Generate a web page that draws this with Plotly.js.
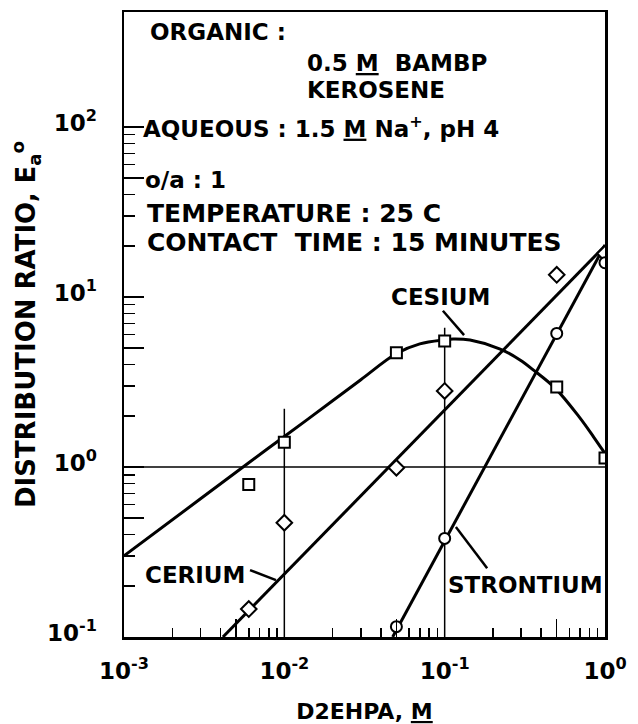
<!DOCTYPE html>
<html>
<head>
<meta charset="utf-8">
<script src="https://cdn.plot.ly/plotly-3.0.1.min.js"></script>
<style>
html, body { margin: 0; padding: 0; background: #fff; }
#chart { width: 638px; height: 724px; }
</style>
</head>
<body>
<div id="chart"></div>
<script>
// ---- measured points (D2EHPA, M  vs  distribution ratio) ----
const cesiumX = [0.006, 0.01, 0.05, 0.1, 0.5, 1.0];
const cesiumY = [0.79, 1.40, 4.69, 5.5, 2.95, 1.13];
const ceriumX = [0.006, 0.01, 0.05, 0.1, 0.5, 1.0];
const ceriumY = [0.146, 0.47, 0.99, 2.8, 13.5, 18];
const strontiumX = [0.05, 0.1, 0.5, 1.0];
const strontiumY = [0.115, 0.38, 6.1, 15.9];

// ---- drawn curves ----
const cesiumCurveX = [0.001, 0.003, 0.006, 0.01, 0.02, 0.03, 0.05, 0.07, 0.1, 0.113, 0.144, 0.222, 0.295, 0.36, 0.49, 0.69, 0.85, 1.0];
const cesiumCurveY = [0.30, 0.65, 1.06, 1.51, 2.45, 3.26, 4.65, 5.3, 5.6, 5.66, 5.58, 4.94, 4.26, 3.7, 2.9, 1.97, 1.5, 1.2];
const ceriumLineX = [0.00414, 1.0];
const ceriumLineY = [0.1, 20];
const strontiumLineX = [0.0474, 1.0];
const strontiumLineY = [0.1, 20.2];

// ---- reference lines ----
const vLineX = [0.01, 0.1];
const vLineTop = [2.2, 6.6];
const hLineY = 1;

// ---- tick labels ----
const xTickVals = [0.001, 0.005, 0.01, 0.05, 0.1, 0.5, 1];
const xTickText = ['10<sup>-3</sup>', '', '10<sup>-2</sup>', '', '10<sup>-1</sup>', '', '10<sup>0</sup>'];
const yTickVals = [0.1, 0.5, 1, 5, 10, 50, 100];
const yTickText = ['10<sup>-1</sup>', '', '10<sup>0</sup>', '', '10<sup>1</sup>', '', '10<sup>2</sup>'];

function minorTicks(lo, hi) {
  const out = [];
  for (let d = lo; d < hi; d++) {
    for (let k = 2; k <= 9; k++) { if (k !== 5) out.push(k * Math.pow(10, d)); }
  }
  return out;
}
const xMinor = minorTicks(-3, 0);
const yMinor = minorTicks(-1, 2);

const FONT = 'DejaVu Sans, Liberation Sans, sans-serif';
const black = '#000';

const lineStyle = { color: black, width: 3 };
const markerBase = { color: '#fff', size: 11, line: { color: black, width: 2 } };

const traces = [
  { x: cesiumCurveX, y: cesiumCurveY, mode: 'lines', line: Object.assign({ shape: 'spline', smoothing: 1 }, lineStyle), hoverinfo: 'skip', showlegend: false },
  { x: ceriumLineX, y: ceriumLineY, mode: 'lines', line: lineStyle, hoverinfo: 'skip', showlegend: false },
  { x: strontiumLineX, y: strontiumLineY, mode: 'lines', line: lineStyle, hoverinfo: 'skip', showlegend: false },
  { x: cesiumX, y: cesiumY, mode: 'markers', name: 'Cesium', marker: Object.assign({ symbol: 'square' }, markerBase), showlegend: false },
  { x: ceriumX, y: ceriumY, mode: 'markers', name: 'Cerium', marker: Object.assign({}, markerBase, { symbol: 'diamond', size: 12 }), showlegend: false },
  { x: strontiumX, y: strontiumY, mode: 'markers', name: 'Strontium', marker: Object.assign({ symbol: 'circle' }, markerBase), showlegend: false }
];

const shapes = [
  { type: 'line', xref: 'paper', yref: 'y', x0: 0, x1: 1, y0: hLineY, y1: hLineY, line: { color: black, width: 1.5 }, layer: 'below' }
];
vLineX.forEach((v, i) => {
  shapes.push({ type: 'line', xref: 'x', yref: 'y', x0: v, x1: v, y0: 0.1, y1: vLineTop[i], line: { color: black, width: 1.5 }, layer: 'below' });
});
// leader lines for labels
[
  [0.663, 0.522, 0.707, 0.483],
  [0.262, 0.107, 0.316, 0.091],
  [0.690, 0.176, 0.755, 0.110]
].forEach(s => shapes.push({ type: 'line', xref: 'paper', yref: 'paper', x0: s[0], y0: s[1], x1: s[2], y1: s[3], line: { color: black, width: 2.5 } }));

function note(text, x, y, anchor, size) {
  return { text: text, xref: 'paper', yref: 'paper', x: x, y: y, xanchor: anchor || 'left', yanchor: 'middle', showarrow: false,
           font: { family: FONT, size: size || 23, color: black, weight: 'bold' } };
}
const annotations = [
  note('ORGANIC :', 0.050, 0.968),
  note('0.5 <u>M</u>  BAMBP', 0.376, 0.918),
  note('KEROSENE', 0.376, 0.875),
  note('AQUEOUS : 1.5 <u>M</u> Na<sup>+</sup>, pH 4', 0.036, 0.816),
  note('o/a : 1', 0.040, 0.731),
  note('TEMPERATURE : 25 C', 0.044, 0.678, 'left', 25),
  note('CONTACT  TIME : 15 MINUTES', 0.044, 0.632, 'left', 25),
  note('CESIUM', 0.657, 0.544, 'center'),
  note('CERIUM', 0.040, 0.099),
  note('STRONTIUM', 0.669, 0.083)
];

const tickFont = { family: FONT, size: 23, color: black, weight: 'bold' };

const layout = {
  width: 638, height: 724,
  margin: { l: 124, r: 33, t: 12, b: 87 },
  paper_bgcolor: '#fff', plot_bgcolor: '#fff',
  showlegend: false,
  xaxis: {
    type: 'log', range: [-3, 0], automargin: false,
    showline: true, linewidth: 2.5, linecolor: black, mirror: true,
    showgrid: false, zeroline: false,
    tickmode: 'array', tickvals: xTickVals, ticktext: xTickText,
    ticks: 'inside', ticklen: 18, tickwidth: 1.5, tickcolor: black,
    ticklabelstandoff: 12,
    tickfont: tickFont,
    minor: { tickmode: 'array', tickvals: xMinor, ticks: 'inside', ticklen: 9, tickwidth: 1.5, tickcolor: black, showgrid: false },
    title: { text: 'D2EHPA, <u>M</u>', font: { family: FONT, size: 22, color: black, weight: 'bold' }, standoff: 24 }
  },
  yaxis: {
    type: 'log', range: [-1, 2.676], automargin: false,
    showline: true, linewidth: 2.5, linecolor: black, mirror: true,
    showgrid: false, zeroline: false,
    tickmode: 'array', tickvals: yTickVals, ticktext: yTickText,
    ticks: 'inside', ticklen: 20, tickwidth: 1.5, tickcolor: black,
    ticklabelstandoff: 20, ticklabelshift: -4,
    tickfont: tickFont,
    minor: { tickmode: 'array', tickvals: yMinor, ticks: 'inside', ticklen: 11, tickwidth: 1.5, tickcolor: black, showgrid: false },
    title: { text: 'DISTRIBUTION RATIO, E<sub>a</sub><sup>o</sup>', font: { family: FONT, size: 26, color: black, weight: 'bold' }, standoff: 4 }
  },
  shapes: shapes,
  annotations: annotations
};

Plotly.newPlot('chart', traces, layout, { displayModeBar: false, staticPlot: true });
</script>
</body>
</html>
